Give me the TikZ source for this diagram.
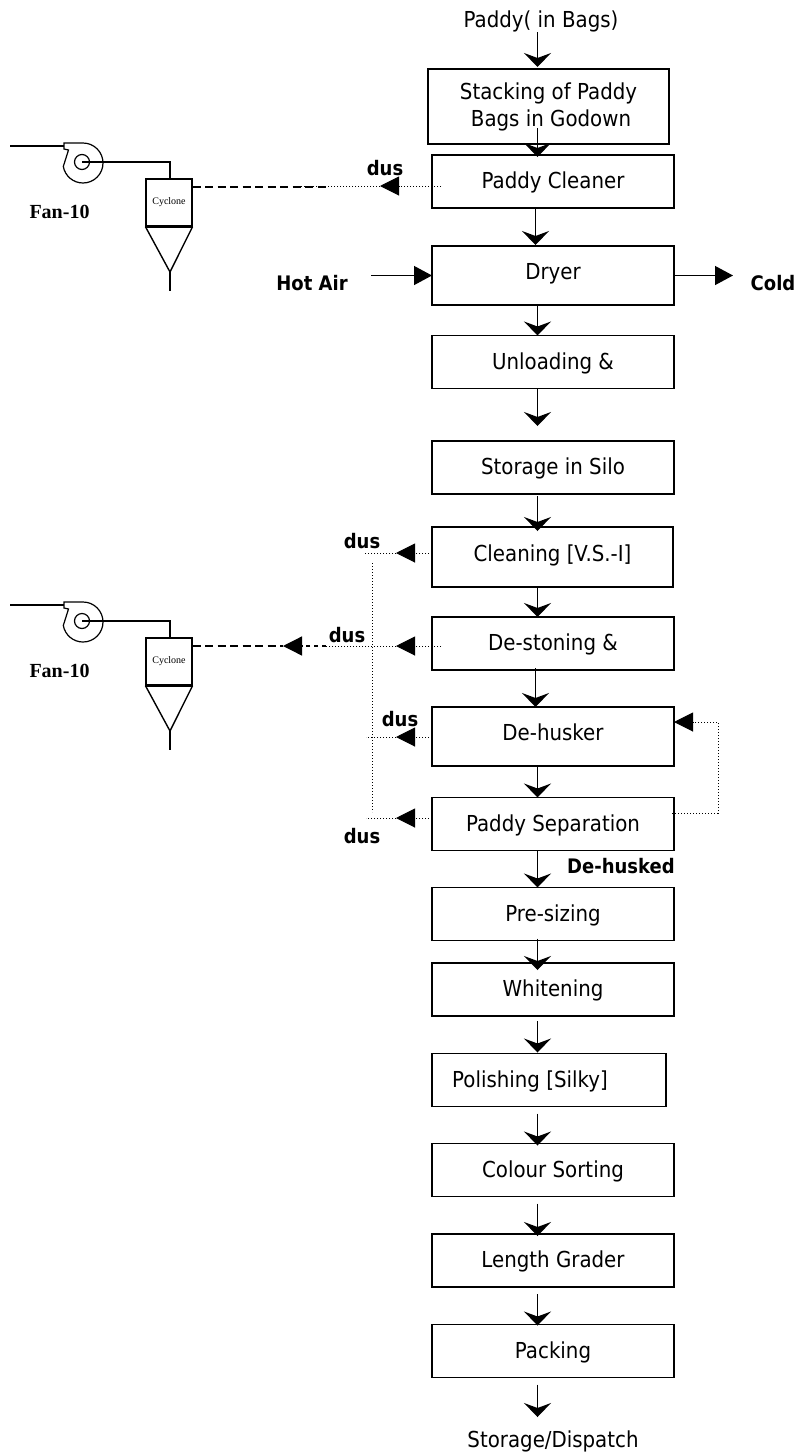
\documentclass[tikz,border=0pt]{standalone}
\usepackage{fontspec}
\setmainfont{DejaVu Sans}[FakeStretch=0.9]
\newfontfamily\timesfont{Liberation Serif}
\usetikzlibrary{shapes,arrows.meta}

\tikzset{
  procbox/.style={draw, line width=1.6pt, inner sep=0pt, outer sep=0pt, minimum width=242pt,
    minimum height=53pt, text height=14pt, text depth=0pt, font=\fontsize{22}{27}\selectfont},
  tallbox/.style={procbox, text depth=6pt},
  plain/.style={inner sep=0pt, anchor=base, font=\fontsize{22}{27}\selectfont},
  tag/.style={inner sep=0pt, anchor=base, font=\fontsize{20}{24}\selectfont\bfseries},
  fantag/.style={inner sep=0pt, anchor=base, font=\fontsize{20}{24}\selectfont\timesfont\bfseries},
  flow/.style={line width=1.3pt, -{Stealth[length=14pt,width=27pt,inset=5pt]}},
  air/.style={line width=1.3pt, -{Triangle[length=18pt,width=19pt]}},
  dust/.style={line width=1pt, dash pattern=on 1.2pt off 1.8pt, -{Triangle[length=19pt,width=19pt]}},
  dustline/.style={line width=1pt, dash pattern=on 1.2pt off 1.8pt},
  duct/.style={line width=1.4pt},
  vent/.style={line width=1.4pt, dash pattern=on 8pt off 4.5pt}
}

\begin{document}
\begin{tikzpicture}[x=1pt, y=-1pt]
  \useasboundingbox (0,0) rectangle (797,1454);

  % stems
  \coordinate (stem) at (537.5,0);
  \coordinate (stemb) at (535.5,0);

  % boxes
  \node[procbox, minimum width=241pt, minimum height=75pt, text height=, text depth=, align=center] (stacking) at (548.5,106.5)
    {Stacking of Paddy\\\hspace*{5pt}Bags in Godown};
  \node[procbox] (cleaner) at (553,181.5) {Paddy Cleaner};
  \node[tallbox, minimum height=59pt] (dryer) at (553,275.5) {Dryer};
  \node[procbox] (unloading) at (553,362) {Unloading \&};
  \node[procbox] (silo) at (553,467.5) {Storage in Silo};
  \node[tallbox, minimum height=60pt, minimum width=241pt] (cleaning) at (552.5,557) {Cleaning [V.S.-I]};
  \node[procbox] (destoning) at (553,643.5) {De-stoning \&};
  \node[tallbox, minimum height=59pt] (dehusker) at (553,736.5) {De-husker};
  \node[procbox] (separation) at (553,824) {Paddy Separation};
  \node[procbox] (presizing) at (553,914) {Pre-sizing};
  \node[procbox] (whitening) at (553,989.5) {Whitening};
  \node[procbox, minimum width=234pt] (polishing) at (549,1080) {Polishing [Silky]\hspace*{38pt}};
  \node[procbox] (sorting) at (553,1170) {Colour Sorting};
  \node[procbox] (grader) at (553,1260.5) {Length Grader};
  \node[procbox] (packing) at (553,1351) {Packing};

  % plain labels
  \node[plain] (paddy) at (541,27) {Paddy( in Bags)};
  \node[plain] (dispatch) at (553,1447) {Storage/Dispatch};
  \node[tag] (hotair) at (312,290) {Hot Air};
  \node[tag] (cold) at (773,290) {Cold};
  \node[tag] (dehusked) at (621,873) {De-husked};
  \node[tag] (dusa) at (385,175) {dus};
  \node[tag] (dusb) at (362,548) {dus};
  \node[tag] (dusc) at (347,642) {dus};
  \node[tag] (dusd) at (400,726) {dus};
  \node[tag] (duse) at (362,843) {dus};

  % main line
  \draw[flow] (stem |- 0,32) -- ([yshift=2pt]stem |- stacking.north);
  \draw[flow] ([yshift=16pt]stem |- stacking.south) -- ([yshift=-2pt]stem |- cleaner.north);
  \draw[flow] (stemb |- cleaner.south) -- ([yshift=1pt]stemb |- dryer.north);
  \draw[flow] (stem |- dryer.south) -- (stem |- unloading.north);
  \draw[flow] (stem |- unloading.south) -- ([yshift=15pt]stem |- silo.north);
  \draw[flow] ([yshift=-2pt]stem |- silo.south) -- ([yshift=-4pt]stem |- cleaning.north);
  \draw[flow] (stem |- cleaning.south) -- (stem |- destoning.north);
  \draw[flow] ([yshift=2pt]stemb |- destoning.south) -- (stemb |- dehusker.north);
  \draw[flow] (stem |- dehusker.south) -- (stem |- separation.north);
  \draw[flow] (stem |- separation.south) -- (stem |- presizing.north);
  \draw[flow] ([yshift=2pt]stem |- presizing.south) -- ([yshift=-7pt]stem |- whitening.north);
  \draw[flow] ([yshift=-5pt]stem |- whitening.south) -- ([yshift=1pt]stem |- polishing.north);
  \draw[flow] ([yshift=-7pt]stem |- polishing.south) -- ([yshift=-2pt]stem |- sorting.north);
  \draw[flow] ([yshift=-7pt]stem |- sorting.south) -- ([yshift=-2pt]stem |- grader.north);
  \draw[flow] ([yshift=-7pt]stem |- grader.south) -- ([yshift=-1pt]stem |- packing.north);
  \coordinate (end) at (537.5,1417);
  \draw[flow] ([yshift=-7pt]stem |- packing.south) -- (end);

  % hot air
  \coordinate (hotin) at (371,275.5);
  \coordinate (coldout) at (733,275.5);
  \draw[air] (hotin) -- (dryer.west |- hotin);
  \draw[air] ([xshift=-1pt]dryer.east |- coldout) -- (coldout);

  % fans and cyclones
  \foreach \ofs/\nm in {0/a,459/b}{
    \coordinate (in\nm) at (10,146+\ofs);
    \coordinate (tip\nm) at (170,272+\ofs);
    \coordinate (foot\nm) at (170,291+\ofs);
    \coordinate (top\nm) at (170,162+\ofs);
    \node[draw, circle, line width=1.2pt, minimum size=15pt, inner sep=0pt] (hub\nm) at (82,162+\ofs) {};
    \node[draw, line width=1.2pt, inner sep=0pt, minimum width=46pt, minimum height=47pt, font=\fontsize{10}{12}\selectfont\timesfont] (cyc\nm) at (169,202.5+\ofs) {Cyclone};
    \node[fantag] (fan\nm) at (59.5,218+\ofs) {Fan-10};
    \draw[duct] (in\nm) -- (64,146+\ofs);
    \draw[line width=1.2pt] (64,143+\ofs) -- (83,143+\ofs) arc[start angle=90, end angle=-170, radius=20pt] -- (68.5,150+\ofs) -- (64,149+\ofs) -- cycle;
    \draw[duct] (hub\nm.center) -- (top\nm) -- (top\nm |- cyc\nm.north);
    \draw[duct] (cyc\nm.south west) -- (tip\nm) -- (cyc\nm.south east);
    \draw[line width=1.8pt] (cyc\nm.south west) -- (cyc\nm.south east);
    \draw[duct] (tip\nm) -- (foot\nm);
  }

  % dust lines
  \coordinate (tipa) at (380,186);
  \coordinate (enda) at (296,186);
  \coordinate (ventendb) at (326,646);
  \coordinate (ducttop) at (372,563);
  \coordinate (ductfoot) at (372,812);
  \coordinate (stuba) at (365,553);
  \coordinate (stubc) at (366,737);
  \coordinate (stubd) at (366,818);
  \coordinate (tipd) at (396,553);
  \coordinate (tipe) at (396,646);
  \coordinate (tipf) at (396,737);
  \coordinate (tipg) at (396,818);
  \coordinate (tiph) at (283,646);
  \draw[dust] ([xshift=9pt]cleaner.west |- tipa) -- (tipa);
  \draw[dustline] (tipa) -- (enda);
  \draw[vent] (cyca.east |- tipa) ++(0,1) -- (326,187);
  \draw[dust] (cleaning.west |- tipd) -- (tipd);
  \draw[dustline] (tipd) -- (stuba);
  \draw[dust] ([xshift=9pt]destoning.west |- tipe) -- (tipe);
  \draw[dustline] (tipe) -- (ventendb);
  \draw[dust] (dehusker.west |- tipf) -- (tipf);
  \draw[dustline] (tipf) -- (stubc);
  \draw[dust] (separation.west |- tipg) -- (tipg);
  \draw[dustline] (tipg) -- (stubd);
  \draw[dustline] (ducttop) -- (ductfoot);
  \draw[vent] (cycb.east |- tiph) -- (tiph);
  \draw[line width=1.3pt, dash pattern=on 4pt off 4pt, -{Triangle[length=19pt,width=19pt]}] (ventendb) -- (tiph);

  % return line
  \coordinate (backa) at (718,813);
  \coordinate (backb) at (718,722);
  \draw[dust] ([xshift=-2pt]separation.east |- backa) -- (backa) -- (backb) -- (dehusker.east |- backb);
\end{tikzpicture}
\end{document}
